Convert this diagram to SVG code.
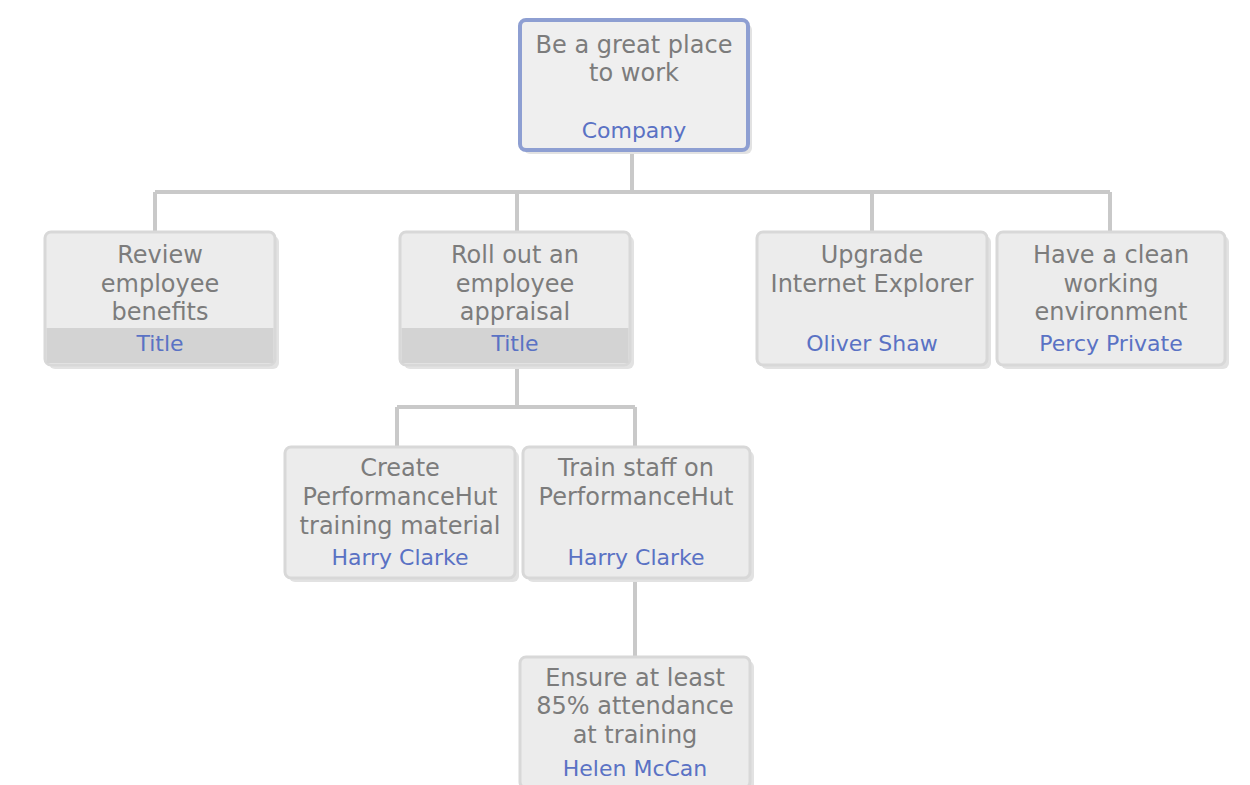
<svg xmlns="http://www.w3.org/2000/svg" width="1250" height="785" viewBox="0 0 1250 785">
<style>
.box{fill:#ececec;stroke:#d8d8d8;stroke-width:3}
.shadow{fill:#e2e2e2}
.root{fill:#efefef;stroke:#8e9fd2;stroke-width:4}
.band{fill:#d3d3d3}
.t{font-family:"DejaVu Sans",sans-serif;font-size:24px;fill:#7c7c7c;text-anchor:middle}
.n{font-family:"DejaVu Sans",sans-serif;font-size:22px;fill:#5a72c4;text-anchor:middle}
.c{fill:none;stroke:#c9c9c9;stroke-width:4}
</style>
<rect width="1250" height="785" fill="#ffffff"/>
<g id="connectors">
<path class="c" d="M632 150V192M155 192H1110M155 192V232M517 192V232M872 192V232M1110 192V232"/>
<path class="c" d="M517 365V407M397 407H635M397 407V447M635 407V447"/>
<path class="c" d="M635 578V657"/>
</g>
<g id="root">
<rect class="shadow" x="524" y="24" width="228" height="130" rx="6"/>
<rect class="root" x="520" y="20" width="228" height="130" rx="6"/>
<text class="t" x="634" y="53">Be a great place</text>
<text class="t" x="634" y="81">to work</text>
<text class="n" x="634" y="138">Company</text>
</g>
<g id="review">
<rect class="shadow" x="49" y="236" width="230" height="133" rx="6"/>
<rect class="box" x="45" y="232" width="230" height="133" rx="6"/>
<rect class="band" x="46.5" y="328" width="227" height="35"/>
<text class="t" x="160" y="263">Review</text>
<text class="t" x="160" y="292">employee</text>
<text class="t" x="160" y="320">benefits</text>
<text class="n" x="160" y="351">Title</text>
</g>
<g id="rollout">
<rect class="shadow" x="404" y="236" width="230" height="133" rx="6"/>
<rect class="box" x="400" y="232" width="230" height="133" rx="6"/>
<rect class="band" x="401.5" y="328" width="227" height="35"/>
<text class="t" x="515" y="263">Roll out an</text>
<text class="t" x="515" y="292">employee</text>
<text class="t" x="515" y="320">appraisal</text>
<text class="n" x="515" y="351">Title</text>
</g>
<g id="upgrade">
<rect class="shadow" x="761" y="236" width="230" height="133" rx="6"/>
<rect class="box" x="757" y="232" width="230" height="133" rx="6"/>
<text class="t" x="872" y="263">Upgrade</text>
<text class="t" x="872" y="292">Internet Explorer</text>
<text class="n" x="872" y="351">Oliver Shaw</text>
</g>
<g id="clean">
<rect class="shadow" x="1001" y="236" width="228" height="133" rx="6"/>
<rect class="box" x="997" y="232" width="228" height="133" rx="6"/>
<text class="t" x="1111" y="263">Have a clean</text>
<text class="t" x="1111" y="292">working</text>
<text class="t" x="1111" y="320">environment</text>
<text class="n" x="1111" y="351">Percy Private</text>
</g>
<g id="create">
<rect class="shadow" x="289" y="451" width="230" height="131" rx="6"/>
<rect class="box" x="285" y="447" width="230" height="131" rx="6"/>
<text class="t" x="400" y="476">Create</text>
<text class="t" x="400" y="505">PerformanceHut</text>
<text class="t" x="400" y="534">training material</text>
<text class="n" x="400" y="565">Harry Clarke</text>
</g>
<g id="train">
<rect class="shadow" x="527" y="451" width="227" height="131" rx="6"/>
<rect class="box" x="523" y="447" width="227" height="131" rx="6"/>
<text class="t" x="636" y="476">Train staff on</text>
<text class="t" x="636" y="505">PerformanceHut</text>
<text class="n" x="636" y="565">Harry Clarke</text>
</g>
<g id="ensure">
<rect class="shadow" x="524" y="661" width="230" height="131" rx="6"/>
<rect class="box" x="520" y="657" width="230" height="131" rx="6"/>
<text class="t" x="635" y="686">Ensure at least</text>
<text class="t" x="635" y="714">85% attendance</text>
<text class="t" x="635" y="743">at training</text>
<text class="n" x="635" y="776">Helen McCan</text>
</g>
</svg>
